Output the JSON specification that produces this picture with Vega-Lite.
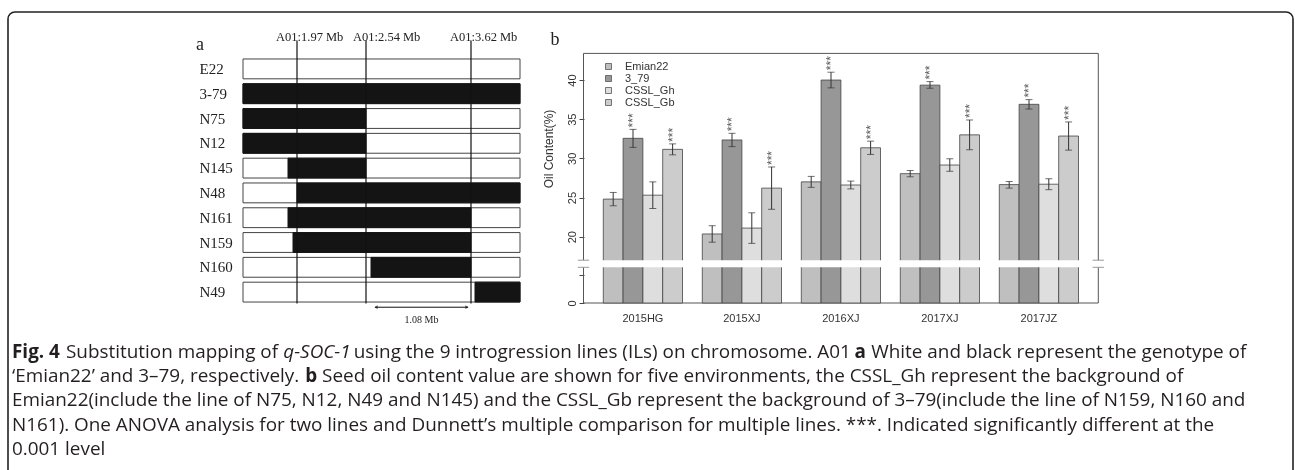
{
  "$schema": "https://vega.github.io/schema/vega-lite/v6.json",
  "width": 1285,
  "height": 458,
  "autosize": {"type": "none"},
  "padding": {"left": 8, "top": 12, "right": 2, "bottom": 0},
  "background": "white",
  "config": {"view": {"stroke": null}},
  "datasets": {
    "lines": [
      {"line": "E22", "from": 0, "to": 277},
      {"line": "3-79", "from": 0, "to": 277},
      {"line": "N75", "from": 0, "to": 277},
      {"line": "N12", "from": 0, "to": 277},
      {"line": "N145", "from": 0, "to": 277},
      {"line": "N48", "from": 0, "to": 277},
      {"line": "N161", "from": 0, "to": 277},
      {"line": "N159", "from": 0, "to": 277},
      {"line": "N160", "from": 0, "to": 277},
      {"line": "N49", "from": 0, "to": 277}
    ],
    "segs": [
      {"line": "3-79", "start": 0, "end": 277},
      {"line": "N75", "start": 0, "end": 123},
      {"line": "N12", "start": 0, "end": 123},
      {"line": "N145", "start": 45, "end": 123},
      {"line": "N48", "start": 54, "end": 277},
      {"line": "N161", "start": 45, "end": 228},
      {"line": "N159", "start": 50, "end": 228},
      {"line": "N160", "start": 128, "end": 228},
      {"line": "N49", "start": 232, "end": 277}
    ],
    "markers": [
      {"pos": 54, "label": "A01:1.97 Mb", "grp": "outer"},
      {"pos": 123, "label": "A01:2.54 Mb", "grp": "mid"},
      {"pos": 228, "label": "A01:3.62 Mb", "grp": "outer"}
    ],
    "oil": [
      {"env": "2015HG", "geno": "Emian22", "value": 24.8, "lo": 23.95, "hi": 25.65, "sig": ""},
      {"env": "2015HG", "geno": "3_79", "value": 32.56, "lo": 31.4, "hi": 33.7, "sig": "***"},
      {"env": "2015HG", "geno": "CSSL_Gh", "value": 25.3, "lo": 23.6, "hi": 27.0, "sig": ""},
      {"env": "2015HG", "geno": "CSSL_Gb", "value": 31.15, "lo": 30.45, "hi": 31.85, "sig": "***"},
      {"env": "2015XJ", "geno": "Emian22", "value": 20.35, "lo": 19.3, "hi": 21.4, "sig": ""},
      {"env": "2015XJ", "geno": "3_79", "value": 32.35, "lo": 31.5, "hi": 33.2, "sig": "***"},
      {"env": "2015XJ", "geno": "CSSL_Gh", "value": 21.1, "lo": 19.15, "hi": 23.05, "sig": ""},
      {"env": "2015XJ", "geno": "CSSL_Gb", "value": 26.2, "lo": 23.5, "hi": 28.9, "sig": "***"},
      {"env": "2016XJ", "geno": "Emian22", "value": 27.0, "lo": 26.3, "hi": 27.7, "sig": ""},
      {"env": "2016XJ", "geno": "3_79", "value": 40.0, "lo": 39.0, "hi": 41.0, "sig": "***"},
      {"env": "2016XJ", "geno": "CSSL_Gh", "value": 26.6, "lo": 26.1, "hi": 27.1, "sig": ""},
      {"env": "2016XJ", "geno": "CSSL_Gb", "value": 31.35, "lo": 30.5, "hi": 32.2, "sig": "***"},
      {"env": "2017XJ", "geno": "Emian22", "value": 28.05, "lo": 27.65, "hi": 28.45, "sig": ""},
      {"env": "2017XJ", "geno": "3_79", "value": 39.35, "lo": 38.95, "hi": 39.8, "sig": "***"},
      {"env": "2017XJ", "geno": "CSSL_Gh", "value": 29.15, "lo": 28.35, "hi": 29.95, "sig": ""},
      {"env": "2017XJ", "geno": "CSSL_Gb", "value": 33.0, "lo": 31.1, "hi": 34.9, "sig": "***"},
      {"env": "2017JZ", "geno": "Emian22", "value": 26.65, "lo": 26.2, "hi": 27.05, "sig": ""},
      {"env": "2017JZ", "geno": "3_79", "value": 36.9, "lo": 36.3, "hi": 37.5, "sig": "***"},
      {"env": "2017JZ", "geno": "CSSL_Gh", "value": 26.7, "lo": 26.0, "hi": 27.4, "sig": ""},
      {"env": "2017JZ", "geno": "CSSL_Gb", "value": 32.85, "lo": 31.05, "hi": 34.65, "sig": "***"}
    ]
  },
  "layer": [
    {
      "data": {"values": [{"part": "frame"}]},
      "mark": {"type": "rect", "fillOpacity": 0, "stroke": "#222", "strokeWidth": 1.6, "cornerRadius": 7},
      "encoding": {
        "x": {"datum": 0, "type": "quantitative", "scale": {"domain": [0, 1], "range": [0, 1285]}, "axis": null},
        "x2": {"datum": 1},
        "y": {"datum": 0, "type": "quantitative", "scale": {"domain": [0, 1], "range": [0, 480]}, "axis": null},
        "y2": {"datum": 1}
      }
    },
    {
      "data": {"name": "lines"},
      "mark": {"type": "rect", "fill": "white", "stroke": "#444", "strokeWidth": 1},
      "encoding": {
        "x": {"field": "from", "type": "quantitative", "scale": {"domain": [0, 277], "range": [235, 512]}, "axis": null},
        "x2": {"field": "to"},
        "y": {"field": "line", "type": "nominal", "sort": null,
              "scale": {"type": "band", "domain": ["E22", "3-79", "N75", "N12", "N145", "N48", "N161", "N159", "N160", "N49"], "range": [44.5, 292.5], "paddingInner": 0.2, "paddingOuter": 0.1},
              "axis": {"orient": "left", "offset": -235, "title": null, "domain": false, "ticks": false, "labelAlign": "left", "labelBaseline": "middle", "labelPadding": 44, "labelFont": "Liberation Serif", "labelFontSize": 15, "labelColor": "#222", "labelOverlap": false, "labelBound": false}}
      }
    },
    {
      "data": {"name": "segs"},
      "mark": {"type": "rect", "fill": "#141414", "stroke": "#141414", "strokeWidth": 1},
      "encoding": {
        "x": {"field": "start", "type": "quantitative", "scale": {"domain": [0, 277], "range": [235, 512]}, "axis": null},
        "x2": {"field": "end"},
        "y": {"field": "line", "type": "nominal",
              "scale": {"type": "band", "domain": ["E22", "3-79", "N75", "N12", "N145", "N48", "N161", "N159", "N160", "N49"], "range": [44.5, 292.5], "paddingInner": 0.2, "paddingOuter": 0.1},
              "axis": null}
      }
    },
    {
      "data": {"name": "markers"},
      "mark": {"type": "rule", "color": "#111", "strokeWidth": 1.2},
      "encoding": {
        "x": {"field": "pos", "type": "quantitative", "scale": {"domain": [0, 277], "range": [235, 512]}, "axis": null},
        "y": {"datum": -1.15, "type": "quantitative", "scale": {"domain": [-1, 10], "range": [32.1, 304.9]}, "axis": null},
        "y2": {"datum": 9.46}
      }
    },
    {
      "data": {"name": "markers"},
      "transform": [{"filter": "datum.grp === 'outer'"}],
      "mark": {"type": "text", "align": "left", "baseline": "middle", "dx": -21, "font": "Liberation Serif", "fontSize": 12.5, "color": "#222"},
      "encoding": {
        "x": {"field": "pos", "type": "quantitative", "scale": {"domain": [0, 277], "range": [235, 512]}, "axis": null},
        "y": {"datum": -1.27, "type": "quantitative", "scale": {"domain": [-1, 10], "range": [32.1, 304.9]}, "axis": null},
        "text": {"field": "label"}
      }
    },
    {
      "data": {"name": "markers"},
      "transform": [{"filter": "datum.grp === 'mid'"}],
      "mark": {"type": "text", "align": "left", "baseline": "middle", "dx": -13, "font": "Liberation Serif", "fontSize": 12.5, "color": "#222"},
      "encoding": {
        "x": {"field": "pos", "type": "quantitative", "scale": {"domain": [0, 277], "range": [235, 512]}, "axis": null},
        "y": {"datum": -1.27, "type": "quantitative", "scale": {"domain": [-1, 10], "range": [32.1, 304.9]}, "axis": null},
        "text": {"field": "label"}
      }
    },
    {
      "data": {"values": [{"from": 132, "to": 225, "label": "1.08 Mb"}]},
      "mark": {"type": "rule", "color": "#111", "strokeWidth": 1},
      "encoding": {
        "x": {"field": "from", "type": "quantitative", "scale": {"domain": [0, 277], "range": [235, 512]}, "axis": null},
        "x2": {"field": "to"},
        "y": {"datum": 9.61, "type": "quantitative", "scale": {"domain": [-1, 10], "range": [32.1, 304.9]}, "axis": null}
      }
    },
    {
      "data": {"values": [{"at": 133, "shape": "triangle-left"}, {"at": 224, "shape": "triangle-right"}]},
      "mark": {"type": "point", "filled": true, "color": "#111", "size": 14},
      "encoding": {
        "x": {"field": "at", "type": "quantitative", "scale": {"domain": [0, 277], "range": [235, 512]}, "axis": null},
        "y": {"datum": 9.61, "type": "quantitative", "scale": {"domain": [-1, 10], "range": [32.1, 304.9]}, "axis": null},
        "shape": {"field": "shape", "type": "nominal", "scale": null, "legend": null}
      }
    },
    {
      "data": {"values": [{"mid": 178.5, "label": "1.08 Mb"}]},
      "mark": {"type": "text", "align": "center", "baseline": "middle", "font": "Liberation Serif", "fontSize": 10, "color": "#222"},
      "encoding": {
        "x": {"field": "mid", "type": "quantitative", "scale": {"domain": [0, 277], "range": [235, 512]}, "axis": null},
        "y": {"datum": 10.14, "type": "quantitative", "scale": {"domain": [-1, 10], "range": [32.1, 304.9]}, "axis": null},
        "text": {"field": "label"}
      }
    },
    {
      "data": {"values": [{"panel": "a"}]},
      "mark": {"type": "text", "align": "center", "baseline": "middle", "font": "Liberation Serif", "fontSize": 18, "color": "#222"},
      "encoding": {
        "x": {"datum": -43, "type": "quantitative", "scale": {"domain": [0, 277], "range": [235, 512]}, "axis": null},
        "y": {"datum": -0.96, "type": "quantitative", "scale": {"domain": [-1, 10], "range": [32.1, 304.9]}, "axis": null},
        "text": {"field": "panel"}
      }
    },
    {
      "data": {"values": [{"panel": "b"}]},
      "mark": {"type": "text", "align": "center", "baseline": "middle", "font": "Liberation Serif", "fontSize": 18, "color": "#222"},
      "encoding": {
        "x": {"datum": -0.0554, "type": "quantitative", "scale": {"domain": [0, 1], "range": [575.5, 1090.3]}, "axis": null},
        "y": {"datum": 45.1, "type": "quantitative", "scale": {"type": "linear", "domain": [0, 6.4, 17, 43.4], "range": [291, 255.3, 248.2, 41.4], "nice": false, "zero": false}, "axis": null},
        "text": {"field": "panel"}
      }
    },
    {
      "data": {"values": [{"box": "plot"}]},
      "mark": {"type": "rect", "fillOpacity": 0, "stroke": "#555", "strokeWidth": 1},
      "encoding": {
        "x": {"datum": 0, "type": "quantitative", "scale": {"domain": [0, 1], "range": [575.5, 1090.3]}, "axis": null},
        "x2": {"datum": 1},
        "y": {"datum": 0, "type": "quantitative", "scale": {"type": "linear", "domain": [0, 6.4, 17, 43.4], "range": [291, 255.3, 248.2, 41.4], "nice": false, "zero": false}, "axis": null},
        "y2": {"datum": 43.4}
      }
    },
    {
      "data": {"name": "oil"},
      "mark": {"type": "bar", "stroke": "#444", "strokeWidth": 0.8},
      "encoding": {
        "x": {"field": "env", "type": "nominal",
              "scale": {"type": "band", "domain": ["2015HG", "2015XJ", "2016XJ", "2017XJ", "2017JZ"], "range": [575.5, 1090.3], "paddingInner": 0.2, "paddingOuter": 0.2},
              "axis": {"orient": "bottom", "offset": -167, "title": null, "domain": false, "ticks": false, "labelAngle": 0, "labelPadding": 9, "labelFont": "Liberation Sans", "labelFontSize": 11, "labelColor": "#333", "labelOverlap": false}},
        "xOffset": {"field": "geno", "type": "nominal", "scale": {"type": "band", "domain": ["Emian22", "3_79", "CSSL_Gh", "CSSL_Gb"], "paddingInner": 0, "paddingOuter": 0}},
        "y": {"field": "value", "type": "quantitative",
              "scale": {"type": "linear", "domain": [0, 6.4, 17, 43.4], "range": [291, 255.3, 248.2, 41.4], "nice": false, "zero": false},
              "axis": {"orient": "left", "offset": -576, "values": [0, 5, 20, 25, 30, 35, 40], "labelExpr": "datum.value === 5 ? '' : datum.label", "domain": false, "tickSize": 5, "tickColor": "#444", "labelAngle": -90, "labelAlign": "center", "labelBaseline": "bottom", "labelPadding": 2, "labelFont": "Liberation Sans", "labelFontSize": 11, "labelColor": "#333", "labelOverlap": false, "grid": false,
                       "title": "Oil Content(%)", "titleFont": "Liberation Sans", "titleFontSize": 12, "titleFontWeight": "normal", "titleColor": "#333", "titleAngle": -90, "titleAlign": "center", "titleBaseline": "middle", "titleX": -36, "titleY": 136.5}},
        "y2": {"datum": 0},
        "color": {"field": "geno", "type": "nominal",
                  "scale": {"domain": ["Emian22", "3_79", "CSSL_Gh", "CSSL_Gb"], "range": ["#bfbfbf", "#979797", "#dedede", "#cccccc"]},
                  "legend": {"orient": "none", "legendX": 595, "legendY": 49, "title": null, "padding": 0, "symbolType": "square", "symbolSize": 36, "symbolStrokeColor": "#555", "symbolStrokeWidth": 0.8, "labelFont": "Liberation Sans", "labelFontSize": 11, "labelColor": "#333", "labelOffset": 11, "rowPadding": 0}}
      }
    },
    {
      "data": {"name": "oil"},
      "mark": {"type": "rule", "color": "#333", "strokeWidth": 1},
      "encoding": {
        "x": {"field": "env", "type": "nominal", "scale": {"type": "band", "domain": ["2015HG", "2015XJ", "2016XJ", "2017XJ", "2017JZ"], "range": [575.5, 1090.3], "paddingInner": 0.2, "paddingOuter": 0.2}, "axis": null},
        "xOffset": {"field": "geno", "type": "nominal", "scale": {"type": "band", "domain": ["Emian22", "3_79", "CSSL_Gh", "CSSL_Gb"], "paddingInner": 0, "paddingOuter": 0}},
        "y": {"field": "lo", "type": "quantitative", "scale": {"type": "linear", "domain": [0, 6.4, 17, 43.4], "range": [291, 255.3, 248.2, 41.4], "nice": false, "zero": false}, "axis": null},
        "y2": {"field": "hi"}
      }
    },
    {
      "data": {"name": "oil"},
      "mark": {"type": "tick", "orient": "horizontal", "size": 7, "thickness": 1, "color": "#333"},
      "encoding": {
        "x": {"field": "env", "type": "nominal", "scale": {"type": "band", "domain": ["2015HG", "2015XJ", "2016XJ", "2017XJ", "2017JZ"], "range": [575.5, 1090.3], "paddingInner": 0.2, "paddingOuter": 0.2}, "axis": null},
        "xOffset": {"field": "geno", "type": "nominal", "scale": {"type": "band", "domain": ["Emian22", "3_79", "CSSL_Gh", "CSSL_Gb"], "paddingInner": 0, "paddingOuter": 0}},
        "y": {"field": "lo", "type": "quantitative", "scale": {"type": "linear", "domain": [0, 6.4, 17, 43.4], "range": [291, 255.3, 248.2, 41.4], "nice": false, "zero": false}, "axis": null}
      }
    },
    {
      "data": {"name": "oil"},
      "mark": {"type": "tick", "orient": "horizontal", "size": 7, "thickness": 1, "color": "#333"},
      "encoding": {
        "x": {"field": "env", "type": "nominal", "scale": {"type": "band", "domain": ["2015HG", "2015XJ", "2016XJ", "2017XJ", "2017JZ"], "range": [575.5, 1090.3], "paddingInner": 0.2, "paddingOuter": 0.2}, "axis": null},
        "xOffset": {"field": "geno", "type": "nominal", "scale": {"type": "band", "domain": ["Emian22", "3_79", "CSSL_Gh", "CSSL_Gb"], "paddingInner": 0, "paddingOuter": 0}},
        "y": {"field": "hi", "type": "quantitative", "scale": {"type": "linear", "domain": [0, 6.4, 17, 43.4], "range": [291, 255.3, 248.2, 41.4], "nice": false, "zero": false}, "axis": null}
      }
    },
    {
      "data": {"name": "oil"},
      "transform": [{"filter": "datum.sig === '***'"}],
      "mark": {"type": "text", "angle": 270, "opacity": 0.99, "blend": "multiply", "align": "left", "baseline": "middle", "dx": 2, "font": "Liberation Sans", "fontSize": 12, "fill": "#555"},
      "encoding": {
        "x": {"field": "env", "type": "nominal", "scale": {"type": "band", "domain": ["2015HG", "2015XJ", "2016XJ", "2017XJ", "2017JZ"], "range": [575.5, 1090.3], "paddingInner": 0.2, "paddingOuter": 0.2}, "axis": null},
        "xOffset": {"field": "geno", "type": "nominal", "scale": {"type": "band", "domain": ["Emian22", "3_79", "CSSL_Gh", "CSSL_Gb"], "paddingInner": 0, "paddingOuter": 0}},
        "y": {"field": "hi", "type": "quantitative", "scale": {"type": "linear", "domain": [0, 6.4, 17, 43.4], "range": [291, 255.3, 248.2, 41.4], "nice": false, "zero": false}, "axis": null},
        "text": {"field": "sig"},
        "color": {"value": "#555"}
      }
    },
    {
      "data": {"values": [{"gap": "break"}]},
      "mark": {"type": "rect", "fill": "white", "strokeWidth": 0},
      "encoding": {
        "x": {"datum": -0.005, "type": "quantitative", "scale": {"domain": [0, 1], "range": [575.5, 1090.3]}, "axis": null},
        "x2": {"datum": 1.005},
        "y": {"datum": 6.4, "type": "quantitative", "scale": {"type": "linear", "domain": [0, 6.4, 17, 43.4], "range": [291, 255.3, 248.2, 41.4], "nice": false, "zero": false}, "axis": null},
        "y2": {"datum": 17}
      }
    },
    {
      "data": {"values": [{"v": 6.4}, {"v": 17}]},
      "mark": {"type": "rule", "color": "#999", "strokeWidth": 1},
      "encoding": {
        "x": {"datum": -0.011, "type": "quantitative", "scale": {"domain": [0, 1], "range": [575.5, 1090.3]}, "axis": null},
        "x2": {"datum": 0.011},
        "y": {"field": "v", "type": "quantitative", "scale": {"type": "linear", "domain": [0, 6.4, 17, 43.4], "range": [291, 255.3, 248.2, 41.4], "nice": false, "zero": false}, "axis": null}
      }
    },
    {
      "data": {"values": [{"v": 6.4}, {"v": 17}]},
      "mark": {"type": "rule", "color": "#999", "strokeWidth": 1},
      "encoding": {
        "x": {"datum": 0.989, "type": "quantitative", "scale": {"domain": [0, 1], "range": [575.5, 1090.3]}, "axis": null},
        "x2": {"datum": 1.011},
        "y": {"field": "v", "type": "quantitative", "scale": {"type": "linear", "domain": [0, 6.4, 17, 43.4], "range": [291, 255.3, 248.2, 41.4], "nice": false, "zero": false}, "axis": null}
      }
    },
    {
      "data": {"values": [
        {"line": 2, "t": "‘Emian22’ and 3–79, respectively."},
        {"line": 3, "t": "Emian22(include the line of N75, N12, N49 and N145) and the CSSL_Gb represent the background of 3–79(include the line of N159, N160 and"},
        {"line": 4, "t": "N161). One ANOVA analysis for two lines and Dunnett’s multiple comparison for multiple lines. ***. Indicated significantly different at the"},
        {"line": 5, "t": "0.001 level"}
      ]},
      "mark": {"type": "text", "align": "left", "baseline": "middle", "font": "Open Sans", "fontSize": 18.9, "color": "#231f20"},
      "encoding": {
        "x": {"datum": 0, "type": "quantitative", "scale": {"domain": [0, 1], "range": [4, 5]}, "axis": null},
        "y": {"field": "line", "type": "quantitative", "scale": {"domain": [1, 5], "range": [339.8, 437]}, "axis": null},
        "text": {"field": "t"}
      }
    },
    {
      "data": {"values": [{"line": 1, "t": "Fig. 4"}]},
      "mark": {"type": "text", "align": "left", "baseline": "middle", "font": "Open Sans", "fontSize": 18.9, "fontWeight": "bold", "color": "#231f20"},
      "encoding": {
        "x": {"datum": 0, "type": "quantitative", "scale": {"domain": [0, 1], "range": [4, 5]}, "axis": null},
        "y": {"field": "line", "type": "quantitative", "scale": {"domain": [1, 5], "range": [339.8, 437]}, "axis": null},
        "text": {"field": "t"}
      }
    },
    {
      "data": {"values": [{"line": 1, "t": "Substitution mapping of"}]},
      "mark": {"type": "text", "align": "left", "baseline": "middle", "dx": 54.0, "font": "Open Sans", "fontSize": 18.9, "color": "#231f20"},
      "encoding": {
        "x": {"datum": 0, "type": "quantitative", "scale": {"domain": [0, 1], "range": [4, 5]}, "axis": null},
        "y": {"field": "line", "type": "quantitative", "scale": {"domain": [1, 5], "range": [339.8, 437]}, "axis": null},
        "text": {"field": "t"}
      }
    },
    {
      "data": {"values": [{"line": 1, "t": "q-SOC-1"}]},
      "mark": {"type": "text", "align": "left", "baseline": "middle", "dx": 271.3, "font": "Open Sans", "fontSize": 18.9, "fontStyle": "italic", "color": "#231f20"},
      "encoding": {
        "x": {"datum": 0, "type": "quantitative", "scale": {"domain": [0, 1], "range": [4, 5]}, "axis": null},
        "y": {"field": "line", "type": "quantitative", "scale": {"domain": [1, 5], "range": [339.8, 437]}, "axis": null},
        "text": {"field": "t"}
      }
    },
    {
      "data": {"values": [{"line": 1, "t": "using the 9 introgression lines (ILs) on chromosome. A01"}]},
      "mark": {"type": "text", "align": "left", "baseline": "middle", "dx": 341.7, "font": "Open Sans", "fontSize": 18.9, "color": "#231f20"},
      "encoding": {
        "x": {"datum": 0, "type": "quantitative", "scale": {"domain": [0, 1], "range": [4, 5]}, "axis": null},
        "y": {"field": "line", "type": "quantitative", "scale": {"domain": [1, 5], "range": [339.8, 437]}, "axis": null},
        "text": {"field": "t"}
      }
    },
    {
      "data": {"values": [{"line": 1, "t": "a"}]},
      "mark": {"type": "text", "align": "left", "baseline": "middle", "dx": 842.5, "font": "Open Sans", "fontSize": 18.9, "fontWeight": "bold", "color": "#231f20"},
      "encoding": {
        "x": {"datum": 0, "type": "quantitative", "scale": {"domain": [0, 1], "range": [4, 5]}, "axis": null},
        "y": {"field": "line", "type": "quantitative", "scale": {"domain": [1, 5], "range": [339.8, 437]}, "axis": null},
        "text": {"field": "t"}
      }
    },
    {
      "data": {"values": [{"line": 1, "t": "White and black represent the genotype of"}]},
      "mark": {"type": "text", "align": "left", "baseline": "middle", "dx": 859.3, "font": "Open Sans", "fontSize": 18.9, "color": "#231f20"},
      "encoding": {
        "x": {"datum": 0, "type": "quantitative", "scale": {"domain": [0, 1], "range": [4, 5]}, "axis": null},
        "y": {"field": "line", "type": "quantitative", "scale": {"domain": [1, 5], "range": [339.8, 437]}, "axis": null},
        "text": {"field": "t"}
      }
    },
    {
      "data": {"values": [{"line": 2, "t": "b"}]},
      "mark": {"type": "text", "align": "left", "baseline": "middle", "dx": 293.2, "font": "Open Sans", "fontSize": 18.9, "fontWeight": "bold", "color": "#231f20"},
      "encoding": {
        "x": {"datum": 0, "type": "quantitative", "scale": {"domain": [0, 1], "range": [4, 5]}, "axis": null},
        "y": {"field": "line", "type": "quantitative", "scale": {"domain": [1, 5], "range": [339.8, 437]}, "axis": null},
        "text": {"field": "t"}
      }
    },
    {
      "data": {"values": [{"line": 2, "t": "Seed oil content value are shown for five environments, the CSSL_Gh represent the background of"}]},
      "mark": {"type": "text", "align": "left", "baseline": "middle", "dx": 310.1, "font": "Open Sans", "fontSize": 18.9, "color": "#231f20"},
      "encoding": {
        "x": {"datum": 0, "type": "quantitative", "scale": {"domain": [0, 1], "range": [4, 5]}, "axis": null},
        "y": {"field": "line", "type": "quantitative", "scale": {"domain": [1, 5], "range": [339.8, 437]}, "axis": null},
        "text": {"field": "t"}
      }
    }
  ],
  "resolve": {
    "scale": {"x": "independent", "y": "independent", "xOffset": "independent", "color": "independent", "shape": "independent"},
    "axis": {"x": "independent", "y": "independent"},
    "legend": {"color": "independent", "shape": "independent"}
  }
}
